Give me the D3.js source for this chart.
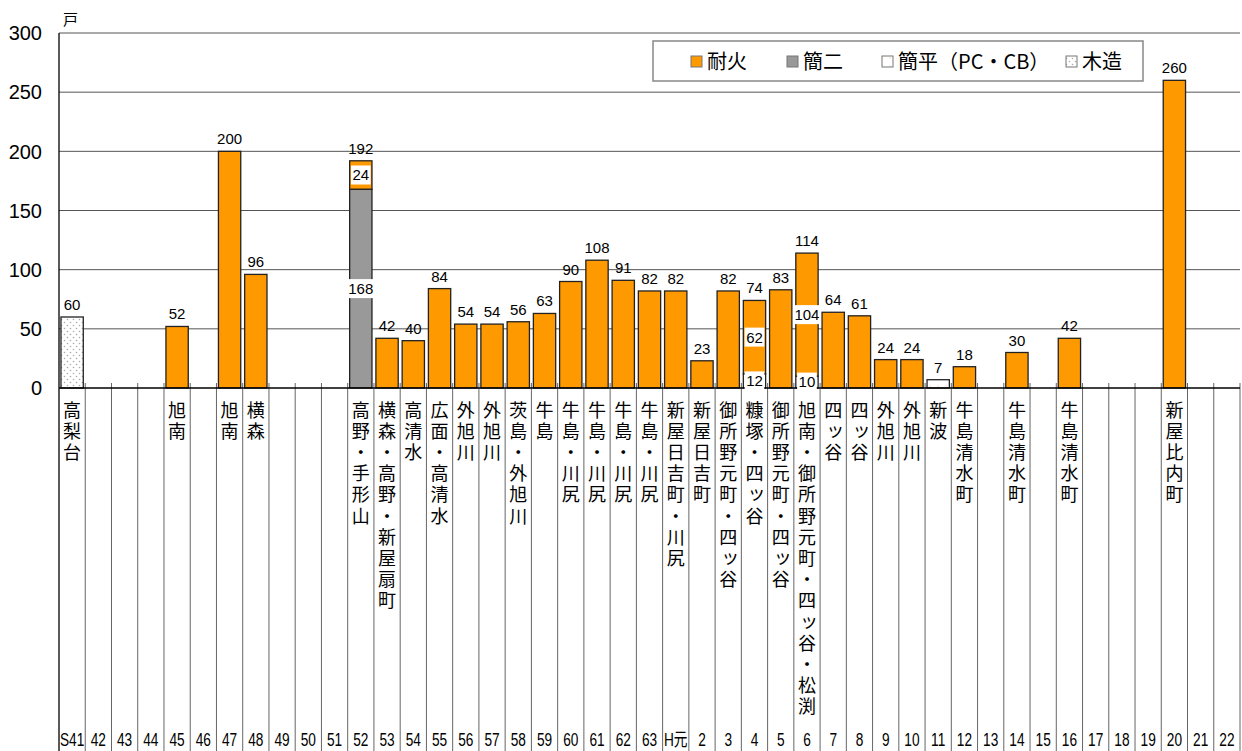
<!DOCTYPE html>
<html>
<head>
<meta charset="utf-8">
<script src="https://cdn.jsdelivr.net/npm/d3@7"></script>
<style>
body { margin: 0; background: #fff; }
</style>
</head>
<body>
<svg id="chart" width="1242" height="751"></svg>
<script>

// years on the category axis
var years = ["S41","42","43","44","45","46","47","48","49","50","51","52","53","54","55","56","57","58","59","60","61","62","63","H元",
  "2","3","4","5","6","7","8","9","10","11","12","13","14","15","16","17","18","19","20","21","22"];

// housing estates built in each year
var places = ["高梨台","","","","旭南","","旭南","横森","","","","高野・手形山","横森・高野・新屋扇町","高清水","広面・高清水","外旭川","外旭川","茨島・外旭川","牛島","牛島・川尻","牛島・川尻","牛島・川尻","牛島・川尻","新屋日吉町・川尻",
  "新屋日吉町","御所野元町・四ッ谷","糠塚・四ッ谷","御所野元町・四ッ谷","旭南・御所野元町・四ッ谷・松渕","四ッ谷","四ッ谷","外旭川","外旭川","新波","牛島清水町","","牛島清水町","","牛島清水町","","","","新屋比内町","",""];

// units per structure type
var taika  = [0,0,0,0,52,0,200,96,0,0,0,24,42,40,84,54,54,56,63,90,108,91,82,82,23,82,62,83,104,64,61,24,24,0,18,0,30,0,42,0,0,0,260,0,0];
var kan2   = [0,0,0,0,0,0,0,0,0,0,0,168,0,0,0,0,0,0,0,0,0,0,0,0,0,0,0,0,0,0,0,0,0,0,0,0,0,0,0,0,0,0,0,0,0];
var kanhei = [0,0,0,0,0,0,0,0,0,0,0,0,0,0,0,0,0,0,0,0,0,0,0,0,0,0,12,0,10,0,0,0,0,7,0,0,0,0,0,0,0,0,0,0,0];
var mokuzo = [60,0,0,0,0,0,0,0,0,0,0,0,0,0,0,0,0,0,0,0,0,0,0,0,0,0,0,0,0,0,0,0,0,0,0,0,0,0,0,0,0,0,0,0,0];

var yTicks = [0,50,100,150,200,250,300];
var legendNames = ["耐火","簡二","簡平（PC・CB）","木造"];

var keys = ["mokuzo","kanhei","kan2","taika"];
var colors = {taika: "#ff9900", kan2: "#999999", kanhei: "url(#pKanhei)", mokuzo: "url(#pMoku)"};

var pLeft = 59, pRight = 1240, pTop = 33, pBase = 388;
var numFont = "'Liberation Sans', Arial, 'Noto Sans CJK JP', sans-serif";
var jpFont = "'Noto Sans CJK JP', sans-serif";

var svg = d3.select("#chart");

// dotted fills
var defs = svg.append("defs");
var pm = defs.append("pattern").attr("id", "pMoku").attr("patternUnits", "userSpaceOnUse")
  .attr("width", 6).attr("height", 6);
pm.append("rect").attr("width", 6).attr("height", 6).attr("fill", "#fff");
pm.append("circle").attr("cx", 1.5).attr("cy", 1.5).attr("r", 0.8).attr("fill", "#aaa");
pm.append("circle").attr("cx", 4.5).attr("cy", 4.5).attr("r", 0.8).attr("fill", "#aaa");

var pk = defs.append("pattern").attr("id", "pKanhei").attr("patternUnits", "userSpaceOnUse")
  .attr("width", 8).attr("height", 8);
pk.append("rect").attr("width", 8).attr("height", 8).attr("fill", "#fff");
pk.append("circle").attr("cx", 2).attr("cy", 2).attr("r", 0.7).attr("fill", "#fbd3a6");

var rows = years.map(function(y, i) {
  return {year: y, place: places[i], taika: taika[i], kan2: kan2[i], kanhei: kanhei[i], mokuzo: mokuzo[i]};
});

var x = d3.scaleBand().domain(years).range([pLeft, pRight]).paddingInner(0.15).paddingOuter(0.075);
var y = d3.scaleLinear().domain([0, 300]).range([pBase, pTop]);
var step = x.step();

// gridlines
svg.append("g").selectAll("line")
  .data(yTicks.slice(1))
  .enter().append("line")
  .attr("x1", pLeft).attr("x2", pRight)
  .attr("y1", function(d) { return y(d); }).attr("y2", function(d) { return y(d); })
  .attr("stroke", "#555").attr("stroke-width", 1);

// y tick labels
svg.append("g").selectAll("text")
  .data(yTicks)
  .enter().append("text")
  .attr("x", 42).attr("y", function(d) { return y(d); })
  .attr("dy", "0.36em")
  .attr("text-anchor", "end")
  .style("font-family", numFont).style("font-size", "20px")
  .text(function(d) { return d; });

svg.append("text").attr("x", 63).attr("y", 25)
  .style("font-family", jpFont).style("font-size", "15px").text("戸");

// category separators below the axis
svg.append("g").selectAll("line")
  .data(d3.range(1, years.length + 1))
  .enter().append("line")
  .attr("x1", function(i) { return pLeft + i * step; }).attr("x2", function(i) { return pLeft + i * step; })
  .attr("y1", pBase - 5).attr("y2", 751)
  .attr("stroke", "#666").attr("stroke-width", 1);

// bars
var series = d3.stack().keys(keys)(rows);
svg.append("g").selectAll("g")
  .data(series)
  .enter().append("g")
  .attr("fill", function(s) { return colors[s.key]; })
  .selectAll("rect")
  .data(function(s) { return s.filter(function(d) { return d[1] > d[0]; }); })
  .enter().append("rect")
  .attr("x", function(d) { return x(d.data.year); })
  .attr("width", x.bandwidth())
  .attr("y", function(d) { return y(d[1]); })
  .attr("height", function(d) { return y(d[0]) - y(d[1]); })
  .attr("stroke", "#222").attr("stroke-width", 1.3);

// axes lines
svg.append("line").attr("x1", pLeft).attr("x2", pRight).attr("y1", pBase).attr("y2", pBase)
  .attr("stroke", "#000").attr("stroke-width", 1.3);
svg.append("line").attr("x1", pLeft).attr("x2", pLeft).attr("y1", pTop).attr("y2", 751)
  .attr("stroke", "#000").attr("stroke-width", 1.3);

// totals above bars
rows.forEach(function(r) {
  var tot = r.taika + r.kan2 + r.kanhei + r.mokuzo;
  if (tot == 0) return;
  var cx = x(r.year) + x.bandwidth() / 2;
  svg.append("text").attr("x", cx).attr("y", y(tot) - 7)
    .attr("text-anchor", "middle")
    .style("font-family", numFont).style("font-size", "15px")
    .text(tot);

  // segment values for the stacked bars
  var parts = keys.filter(function(k) { return r[k] > 0; });
  if (parts.length < 2) return;
  var b0 = 0;
  parts.forEach(function(k) {
    var mid = y(b0 + r[k] / 2);
    b0 += r[k];
    var g = svg.append("g");
    var t = g.append("text").attr("x", cx).attr("y", mid).attr("dy", "0.36em")
      .attr("text-anchor", "middle")
      .style("font-family", numFont).style("font-size", "15px")
      .text(r[k]);
    var bb = t.node().getBBox();
    g.insert("rect", "text")
      .attr("x", bb.x - 1.5).attr("y", mid - 9.5)
      .attr("width", bb.width + 3).attr("height", 19)
      .attr("fill", "#fff");
  });
});

// vertical place names, one character per line
rows.forEach(function(r) {
  if (r.place == "") return;
  var cx = x(r.year) + x.bandwidth() / 2;
  var t = svg.append("text")
    .attr("text-anchor", "middle")
    .style("font-family", jpFont).style("font-size", "18px");
  Array.from(r.place).forEach(function(c, i) {
    var dx = 0, dy = 0;
    if (c == "ッ") { dx = 2; dy = -1; }
    t.append("tspan")
      .attr("x", cx + dx).attr("y", 416.5 + i * 21.2 + dy)
      .text(c);
  });
});

// year labels at the bottom
svg.append("g").selectAll("text")
  .data(years)
  .enter().append("text")
  .attr("transform", function(d) { return "translate(" + (x(d) + x.bandwidth() / 2) + ",746) scale(0.74,1)"; })
  .attr("text-anchor", "middle")
  .style("font-family", numFont).style("font-size", "18.5px")
  .text(function(d) { return d; });

// legend
svg.append("rect").attr("x", 653).attr("y", 41).attr("width", 490).attr("height", 40)
  .attr("fill", "#fff").attr("stroke", "#888").attr("stroke-width", 1.5);
var legX = [691, 787, 882, 1066];
var legFill = [colors.taika, colors.kan2, "url(#pKanhei)", "url(#pMoku)"];
legendNames.forEach(function(n, i) {
  svg.append("rect").attr("x", legX[i]).attr("y", 56).attr("width", 11).attr("height", 11)
    .attr("fill", legFill[i]).attr("stroke", "#777").attr("stroke-width", 1);
  svg.append("text").attr("x", legX[i] + 16).attr("y", 69)
    .style("font-family", jpFont).style("font-size", "20px")
    .text(n);
});

</script>
</body>
</html>
